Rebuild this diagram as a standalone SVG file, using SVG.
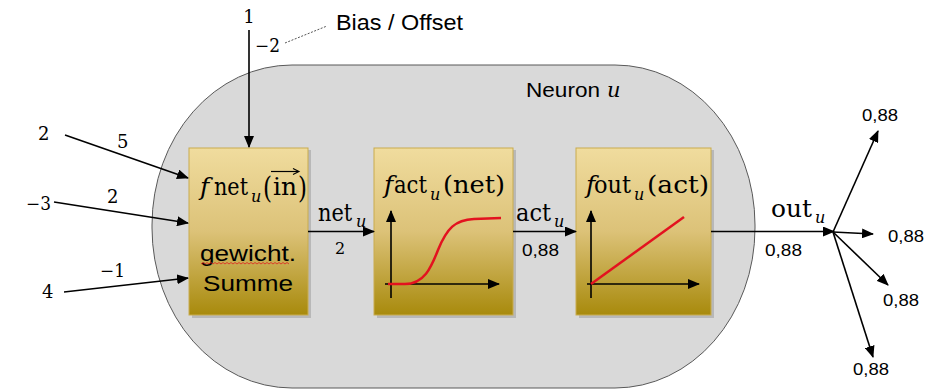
<svg xmlns="http://www.w3.org/2000/svg" width="927" height="389" viewBox="0 0 927 389">
<defs>
<linearGradient id="gold" x1="0" y1="0" x2="0" y2="1">
<stop offset="0" stop-color="#F0DC9E"/>
<stop offset="0.5" stop-color="#DCC278"/>
<stop offset="1" stop-color="#A88A0C"/>
</linearGradient>
<marker id="arr" markerUnits="userSpaceOnUse" markerWidth="12" markerHeight="10" refX="11" refY="5" orient="auto">
<path d="M0,0 L12,5 L0,10 Z" fill="#000"/>
</marker>
<style>
.box{fill:url(#gold);stroke:#C9AC4E;stroke-width:1}
.shadow{fill:#000;opacity:0.15}
.ln{stroke:#000;stroke-width:1.6;fill:none}
.ax{stroke:#000;stroke-width:1.6;fill:none}
.red{stroke:#E3121F;stroke-width:2.5;fill:none}
.ser{font-family:"DejaVu Serif","Liberation Serif",serif;fill:#000}
.san{font-family:"Liberation Sans",Arial,sans-serif;fill:#000}
.it{font-style:italic}
.sub{font-family:"DejaVu Serif","Liberation Serif",serif;font-style:italic;font-size:16px;fill:#000}
</style>
</defs>
<rect x="0" y="0" width="927" height="389" fill="#fff"/>
<g id="neuron">
<rect x="152" y="65" width="603" height="323" rx="140" ry="160" fill="#D9D9D9" stroke="#595959" stroke-width="1"/>
<text class="san" x="526" y="97" font-size="21" textLength="74" lengthAdjust="spacingAndGlyphs">Neuron</text>
<text class="ser it" x="607" y="97" font-size="21">u</text>
</g>
<g id="fnet">
<rect class="shadow" x="192" y="150" width="119" height="168"/>
<rect class="box" x="189" y="148" width="119" height="167"/>
<text class="ser it" x="200" y="195" font-size="25">f</text>
<text class="ser" transform="translate(214,195) scale(0.83,1)" font-size="25">net</text>
<text class="sub" x="251" y="202">u</text>
<text class="ser" x="263" y="198" font-size="30" textLength="9" lengthAdjust="spacingAndGlyphs">(</text>
<text class="ser" x="273" y="195" font-size="25" textLength="24" lengthAdjust="spacingAndGlyphs">in</text>
<line x1="271" y1="171.5" x2="298" y2="171.5" stroke="#000" stroke-width="1.2"/>
<path d="M293,168.5 L299,171.5 L293,174.5" fill="none" stroke="#000" stroke-width="1.1"/>
<text class="ser" x="298" y="198" font-size="30" textLength="9" lengthAdjust="spacingAndGlyphs">)</text>
<text class="san" x="200" y="261" font-size="22" textLength="96" lengthAdjust="spacingAndGlyphs">gewicht.</text>
<path d="M201,264 l2,-1.5 l2,1.5 l2,-1.5 l2,1.5 l2,-1.5 l2,1.5 l2,-1.5 l2,1.5 l2,-1.5 l2,1.5 l2,-1.5 l2,1.5 l2,-1.5 l2,1.5 l2,-1.5 l2,1.5 l2,-1.5 l2,1.5 l2,-1.5 l2,1.5 l2,-1.5 l2,1.5 l2,-1.5 l2,1.5 l2,-1.5 l2,1.5 l2,-1.5 l2,1.5 l2,-1.5 l2,1.5 l2,-1.5 l2,1.5 l2,-1.5 l2,1.5 l2,-1.5 l2,1.5 l2,-1.5 l2,1.5 l2,-1.5 l2,1.5 l2,-1.5 l2,1.5 l2,-1.5 l2,1.5" fill="none" stroke="#E02020" stroke-width="0.8"/>
<text class="san" x="203" y="291" font-size="22" textLength="90" lengthAdjust="spacingAndGlyphs">Summe</text>
</g>
<g id="fact">
<rect class="shadow" x="377" y="150" width="139" height="168"/>
<rect class="box" x="374" y="148" width="139" height="167"/>
<text class="ser it" x="384" y="193" font-size="25">f</text>
<text class="ser" transform="translate(394,193) scale(0.847,1)" font-size="25">act</text>
<text class="sub" x="430" y="200">u</text>
<text class="ser" x="443" y="193" font-size="25" textLength="62" lengthAdjust="spacingAndGlyphs">(net)</text>
<line class="ax" x1="391" y1="298" x2="391" y2="211" marker-end="url(#arr)"/>
<line class="ax" x1="385" y1="284" x2="499" y2="284" marker-end="url(#arr)"/>
<path class="red" d="M388,284 L405,284 C424,284 431,268 438,250 C447,228 455,220 474,219 L501,218"/>
</g>
<g id="fout">
<rect class="shadow" x="579" y="150" width="135" height="168"/>
<rect class="box" x="576" y="148" width="135" height="167"/>
<text class="ser it" x="586" y="193" font-size="25">f</text>
<text class="ser" x="594" y="193" font-size="25" textLength="37" lengthAdjust="spacingAndGlyphs">out</text>
<text class="sub" x="634" y="200">u</text>
<text class="ser" x="647" y="193" font-size="25" textLength="62" lengthAdjust="spacingAndGlyphs">(act)</text>
<line class="ax" x1="591" y1="298" x2="591" y2="211" marker-end="url(#arr)"/>
<line class="ax" x1="587" y1="284" x2="699" y2="284" marker-end="url(#arr)"/>
<line class="red" x1="591" y1="284" x2="684" y2="217"/>
</g>
<g id="connectors">
<line class="ln" x1="249" y1="30" x2="249" y2="147" marker-end="url(#arr)"/>
<line x1="285" y1="43" x2="327" y2="26" stroke="#555" stroke-width="1" stroke-dasharray="2,1.5"/>
<line class="ln" x1="65" y1="135" x2="188" y2="178" marker-end="url(#arr)"/>
<line class="ln" x1="54" y1="202" x2="188" y2="223" marker-end="url(#arr)"/>
<line class="ln" x1="64" y1="292" x2="188" y2="278" marker-end="url(#arr)"/>
<line class="ln" x1="308" y1="231.5" x2="374" y2="231.5" marker-end="url(#arr)"/>
<line class="ln" x1="513" y1="231.5" x2="576" y2="231.5" marker-end="url(#arr)"/>
<line class="ln" x1="711" y1="231.5" x2="834" y2="231.5" marker-end="url(#arr)"/>
<line class="ln" x1="833" y1="232" x2="878" y2="131" marker-end="url(#arr)"/>
<line class="ln" x1="833" y1="232" x2="873" y2="234" marker-end="url(#arr)"/>
<line class="ln" x1="833" y1="232" x2="888" y2="285" marker-end="url(#arr)"/>
<line class="ln" x1="833" y1="232" x2="873" y2="357" marker-end="url(#arr)"/>
</g>
<g id="labels">
<text class="ser" x="249" y="23" font-size="18" text-anchor="middle">1</text>
<text class="ser" x="255" y="52" font-size="18" textLength="25" lengthAdjust="spacingAndGlyphs">−2</text>
<text class="san" x="336" y="30" font-size="22" textLength="127" lengthAdjust="spacingAndGlyphs">Bias / Offset</text>
<text class="ser" x="38" y="140" font-size="18">2</text>
<text class="ser" x="117" y="148" font-size="18">5</text>
<text class="ser" x="26" y="210" font-size="18" textLength="25" lengthAdjust="spacingAndGlyphs">−3</text>
<text class="ser" x="107" y="203" font-size="18">2</text>
<text class="ser" x="42" y="298" font-size="18">4</text>
<text class="ser" x="100" y="277" font-size="18" textLength="25" lengthAdjust="spacingAndGlyphs">−1</text>
<text class="ser" transform="translate(318,221) scale(0.87,1)" font-size="24">net</text>
<text class="sub" x="356" y="227">u</text>
<text class="ser" x="335" y="254" font-size="16">2</text>
<text class="ser" x="516" y="221" font-size="24" textLength="35" lengthAdjust="spacingAndGlyphs">act</text>
<text class="sub" x="554" y="227">u</text>
<text class="san" x="522" y="256" font-size="17" textLength="37" lengthAdjust="spacingAndGlyphs">0,88</text>
<text class="ser" x="771" y="217" font-size="24" textLength="41" lengthAdjust="spacingAndGlyphs">out</text>
<text class="sub" x="815" y="223">u</text>
<text class="san" x="765" y="256" font-size="17" textLength="37" lengthAdjust="spacingAndGlyphs">0,88</text>
<text class="san" x="862" y="121" font-size="17" textLength="36" lengthAdjust="spacingAndGlyphs">0,88</text>
<text class="san" x="888" y="242" font-size="17" textLength="36" lengthAdjust="spacingAndGlyphs">0,88</text>
<text class="san" x="883" y="306" font-size="17" textLength="36" lengthAdjust="spacingAndGlyphs">0,88</text>
<text class="san" x="853" y="375" font-size="17" textLength="36" lengthAdjust="spacingAndGlyphs">0,88</text>
</g>
</svg>
